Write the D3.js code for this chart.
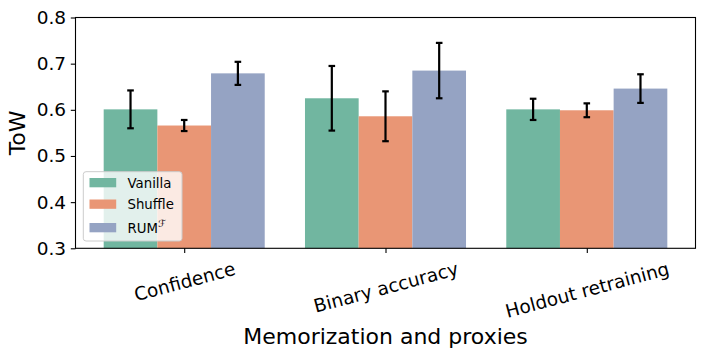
<!DOCTYPE html>
<html>
<head>
<meta charset="utf-8">
<script src="https://cdn.jsdelivr.net/npm/d3@7"></script>
<style>
  html, body { margin: 0; padding: 0; background: #fff; }
  svg { display: block; font-family: "DejaVu Sans", sans-serif; }
</style>
</head>
<body>
<svg id="chart" width="706" height="358"></svg>
<script>
// ---- Data ----
const categories = ["Confidence", "Binary accuracy", "Holdout retraining"];
const seriesNames = ["Vanilla", "Shuffle", "RUM"];
const vanillaValues = [0.601, 0.625, 0.601];
const vanillaErrors = [0.041, 0.070, 0.023];
const shuffleValues = [0.566, 0.586, 0.599];
const shuffleErrors = [0.012, 0.054, 0.015];
const rumValues = [0.679, 0.685, 0.646];
const rumErrors = [0.025, 0.060, 0.031];
const yTicks = [0.3, 0.4, 0.5, 0.6, 0.7, 0.8];
const colors = ["#71b6a0", "#e99675", "#95a3c3"];

const series = [
  { name: seriesNames[0], values: vanillaValues, errors: vanillaErrors },
  { name: seriesNames[1], values: shuffleValues, errors: shuffleErrors },
  { name: seriesNames[2], values: rumValues, errors: rumErrors }
];

// ---- Layout ----
const svg = d3.select("#chart");
const mLeft = 75.5, mRight = 695.5, mTop = 17.5, mBottom = 248.3;
const tickFont = 18.5;

const x = d3.scaleLinear().domain([-0.54, 2.54]).range([mLeft, mRight]);
const y = d3.scaleLinear().domain([0.3, 0.8]).range([mBottom, mTop]);
const barW = 0.8 / 3;

const g = svg.append("g");

// Bars
series.forEach((s, si) => {
  const off = -0.4 + si * barW;
  g.selectAll(null).data(s.values).enter().append("rect")
    .attr("x", (d, i) => x(i + off))
    .attr("y", d => y(d))
    .attr("width", (d, i) => x(i + off + barW) - x(i + off))
    .attr("height", d => y(0.3) - y(d))
    .attr("fill", colors[si]);
});

// Error bars
series.forEach((s, si) => {
  const off = -0.4 + si * barW + barW / 2;
  s.values.forEach((v, i) => {
    const cx = x(i + off);
    const e = s.errors[i];
    g.append("line").attr("x1", cx).attr("x2", cx)
      .attr("y1", y(v - e)).attr("y2", y(v + e))
      .attr("stroke", "#000").attr("stroke-width", 2.2);
    [v - e, v + e].forEach(c => {
      g.append("line").attr("x1", cx - 3.3).attr("x2", cx + 3.3)
        .attr("y1", y(c)).attr("y2", y(c))
        .attr("stroke", "#000").attr("stroke-width", 2.2);
    });
  });
});

// Axes frame
svg.append("rect").attr("x", mLeft).attr("y", mTop)
  .attr("width", mRight - mLeft).attr("height", mBottom - mTop)
  .attr("fill", "none").attr("stroke", "#000").attr("stroke-width", 1.1);

// Y axis
const yAxis = d3.axisLeft(y).tickValues(yTicks).tickFormat(d3.format(".1f"))
  .tickSize(4.7).tickPadding(4.7);
const yg = svg.append("g").attr("transform", `translate(${mLeft},0)`).call(yAxis);
yg.select(".domain").remove();
yg.selectAll(".tick line").attr("stroke", "#000").attr("stroke-width", 1.1);
yg.selectAll(".tick text").attr("font-size", tickFont).attr("fill", "#000")
  .attr("font-family", "DejaVu Sans");

// X axis
const xAxis = d3.axisBottom(x).tickValues([0, 1, 2]).tickFormat(i => categories[i])
  .tickSize(4.7).tickPadding(4.7);
const xg = svg.append("g").attr("transform", `translate(0,${mBottom})`).call(xAxis);
xg.select(".domain").remove();
xg.selectAll(".tick line").attr("stroke", "#000").attr("stroke-width", 1.1);
xg.selectAll(".tick text")
  .attr("font-size", tickFont).attr("fill", "#000").attr("font-family", "DejaVu Sans")
  .attr("dy", null)
  .each(function () {
    const t = d3.select(this);
    const w = this.getComputedTextLength();
    const h = tickFont * 1.16;
    const a = 15 * Math.PI / 180;
    const bh = w * Math.sin(a) + h * Math.cos(a);
    const cy = 9.4 + bh / 2;
    t.attr("y", 0).attr("text-anchor", "middle").attr("dominant-baseline", "central")
      .attr("transform", `translate(0,${cy}) rotate(-15)`);
  });

// Axis labels
svg.append("text").attr("x", (mLeft + mRight) / 2).attr("y", 343.5)
  .attr("text-anchor", "middle").attr("font-size", 22).attr("fill", "#000")
  .text("Memorization and proxies");
svg.append("text")
  .attr("transform", `translate(24.5,${(mTop + mBottom) / 2}) rotate(-90)`)
  .attr("text-anchor", "middle").attr("font-size", 22).attr("fill", "#000")
  .text("ToW");

// Legend
const lg = svg.append("g");
lg.append("rect").attr("x", 83.3).attr("y", 171.7).attr("width", 98.7).attr("height", 69.3)
  .attr("rx", 2.7).attr("fill", "#fff").attr("fill-opacity", 0.8)
  .attr("stroke", "#cccccc").attr("stroke-width", 1);
const legendY = [182.7, 204.2, 227.7];
series.forEach((s, si) => {
  lg.append("rect").attr("x", 89.5).attr("y", legendY[si] - 4.7)
    .attr("width", 26.7).attr("height", 9.3).attr("fill", colors[si]);
  const t = lg.append("text").attr("x", 127.5).attr("y", legendY[si] + 4.8)
    .attr("font-size", 13.3).attr("fill", "#000").text(s.name);
  if (si === 2) {
    t.append("tspan").attr("font-size", 10).attr("dy", -6).attr("font-style", "italic")
      .text("ℱ");
  }
});
</script>
</body>
</html>
